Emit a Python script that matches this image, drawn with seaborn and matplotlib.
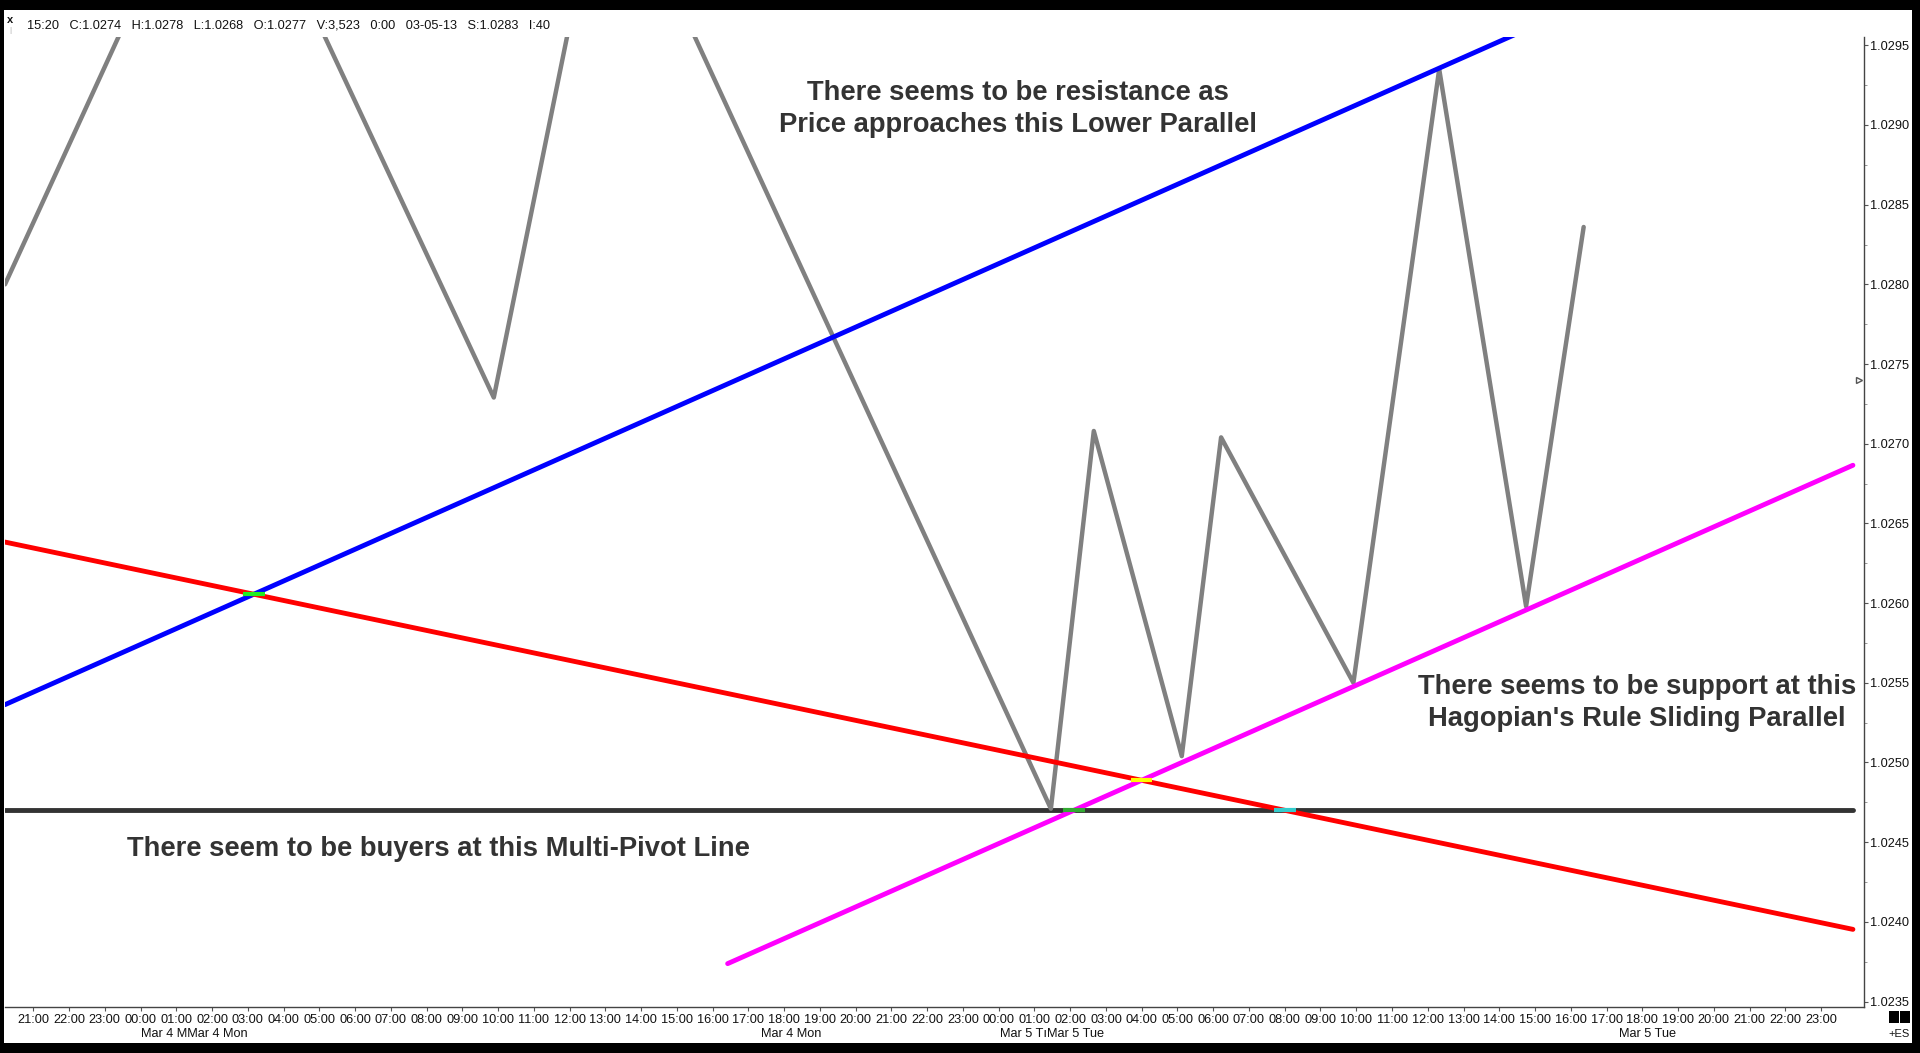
import numpy as np
import pandas as pd
import matplotlib
matplotlib.use("Agg")
import matplotlib.pyplot as plt
import seaborn as sns
from matplotlib.patches import Rectangle
from matplotlib.ticker import FixedLocator, MultipleLocator, FormatStrFormatter

# ---------------- data ----------------
# x = hours elapsed since Mar 3 21:00
price_hours = [-0.79, 5.24, 12.88, 16.02, 28.46, 29.66, 32.12, 33.22, 36.92, 39.32, 41.75, 43.36]
price_vals = [1.02800, 1.03095, 1.02729, 1.03076, 1.02471, 1.02708, 1.02504, 1.02704,
              1.02550, 1.02935, 1.02598, 1.02836]

blue_hours = [-0.79, 43.0]
blue_vals = [1.025363, 1.029723]
red_hours = [-0.79, 50.89]
red_vals = [1.026383, 1.023953]
pivot_hours = [-0.79, 50.89]
pivot_vals = [1.02470, 1.02470]
magenta_hours = [19.42, 50.89]
magenta_vals = [1.023738, 1.026865]

hour_ticks = list(range(0, 51))
hour_labels = [f"{(21 + h) % 24:02d}:00" for h in hour_ticks]
date_label_hours = [4.50, 21.2, 28.48, 45.15]
date_labels = ["Mar 4 MMar 4 Mon", "Mar 4 Mon", "Mar 5 T\u0131Mar 5 Tue", "Mar 5 Tue"]
y_ticks = [1.0235, 1.0240, 1.0245, 1.0250, 1.0255, 1.0260, 1.0265, 1.0270,
           1.0275, 1.0280, 1.0285, 1.0290, 1.0295]
last_close = 1.0274
header = "15:20   C:1.0274   H:1.0278   L:1.0268   O:1.0277   V:3,523   0:00   03-05-13   S:1.0283   I:40"

# ---------------- figure ----------------
sns.set_theme(style="white")
plt.rcParams['font.family'] = ['Liberation Sans', 'DejaVu Sans']

W, H = 1920, 1053
fig = plt.figure(figsize=(W / 100, H / 100), dpi=100)
fig.patch.set_facecolor("white")

left_px, right_px, top_px, bot_px = 5, 1864, 36.7, 1006.5
ax = fig.add_axes([left_px / W, 1 - bot_px / H, (right_px - left_px) / W, (bot_px - top_px) / H])
ax.set_facecolor("white")

def line_df(xs, ys):
    return pd.DataFrame({"h": xs, "p": ys})

sns.lineplot(data=line_df(pivot_hours, pivot_vals), x="h", y="p", ax=ax, color="#333333",
             linewidth=3.5, estimator=None, sort=False, zorder=2)
sns.lineplot(data=line_df(price_hours, price_vals), x="h", y="p", ax=ax, color="#808080",
             linewidth=3.2, estimator=None, sort=False, zorder=3)
sns.lineplot(data=line_df(blue_hours, blue_vals), x="h", y="p", ax=ax, color="#0000ff",
             linewidth=3.5, estimator=None, sort=False, zorder=4)
sns.lineplot(data=line_df(red_hours, red_vals), x="h", y="p", ax=ax, color="#ff0000",
             linewidth=3.5, estimator=None, sort=False, zorder=4)
sns.lineplot(data=line_df(magenta_hours, magenta_vals), x="h", y="p", ax=ax, color="#ff00ff",
             linewidth=3.5, estimator=None, sort=False, zorder=5)

# intersection highlights computed from the lines
def line_coef(xs, ys):
    m = (ys[1] - ys[0]) / (xs[1] - xs[0])
    return m, ys[0] - m * xs[0]

def intersect(a, b):
    m1, c1 = line_coef(*a)
    m2, c2 = line_coef(*b)
    x = (c2 - c1) / (m1 - m2)
    return x, m1 * x + c1

pairs = [((blue_hours, blue_vals), (red_hours, red_vals), "#22ee22"),
         ((red_hours, red_vals), (magenta_hours, magenta_vals), "#ffff00"),
         ((magenta_hours, magenta_vals), (pivot_hours, pivot_vals), "#33aa33"),
         ((red_hours, red_vals), (pivot_hours, pivot_vals), "#33cccc")]
for a, b, c in pairs:
    xi, yi = intersect(a, b)
    ax.plot([xi - 0.3, xi + 0.3], [yi, yi], color=c, linewidth=3.0, zorder=6,
            solid_capstyle="butt")

ax.set_xlim(-0.79, 51.2)
ax.set_ylim(1.023469, 1.029554)
ax.set_xlabel("")
ax.set_ylabel("")

# axes styling
for s in ["left", "top"]:
    ax.spines[s].set_visible(False)
for s in ["right", "bottom"]:
    ax.spines[s].set_visible(True)
    ax.spines[s].set_color("#444444")
    ax.spines[s].set_linewidth(1.0)

TICK_FS = 9.2
ax.xaxis.set_major_locator(FixedLocator(hour_ticks))
ax.set_xticklabels(hour_labels)
ax.yaxis.tick_right()
ax.yaxis.set_major_locator(FixedLocator(y_ticks))
ax.yaxis.set_major_formatter(FormatStrFormatter("%.4f"))
ax.yaxis.set_minor_locator(MultipleLocator(0.00025))
ax.tick_params(axis="x", which="major", direction="out", length=3, width=0.8, color="#555555",
               labelsize=TICK_FS, labelcolor="#111111", pad=2.5, bottom=True)
ax.tick_params(axis="y", which="major", direction="out", length=3, width=0.8, color="#555555",
               labelsize=TICK_FS, labelcolor="#111111", pad=1.5, right=True, left=False)
ax.tick_params(axis="y", which="minor", direction="out", length=2, width=0.6, color="#888888",
               right=True, left=False)
ax.grid(False)

# date labels
for hx, lab in zip(date_label_hours, date_labels):
    ax.text(hx, -0.0288, lab, transform=ax.get_xaxis_transform(), ha="center", va="center",
            fontsize=TICK_FS, color="#111111", clip_on=False)

# last price marker on the right axis
ax.plot([0.9955, 0.9985], [last_close, last_close], transform=ax.get_yaxis_transform(),
        color="#555555", linewidth=0.8, clip_on=False)
ax.plot([0.9975], [last_close], transform=ax.get_yaxis_transform(), marker=">",
        markersize=4, markerfacecolor="white", markeredgecolor="#555555", clip_on=False)

# annotations
ANN_FS = 19.7
txt_kw = dict(fontsize=ANN_FS, fontweight="bold", color="#333333", ha="center", va="center")
fig.text(1017.6 / W, 1 - 93 / H, "There seems to be resistance as", **txt_kw)
fig.text(1017.6 / W, 1 - 125 / H, "Price approaches this Lower Parallel", **txt_kw)
fig.text(1637 / W, 1 - 687 / H, "There seems to be support at this", **txt_kw)
fig.text(1637 / W, 1 - 718.5 / H, "Hagopian's Rule Sliding Parallel", **txt_kw)
fig.text(127 / W, 1 - 848.5 / H, "There seem to be buyers at this Multi-Pivot Line",
         fontsize=ANN_FS, fontweight="bold", color="#333333", ha="left", va="center")

# header
fig.text(27 / W, 1 - 26 / H, header, fontsize=TICK_FS, color="#111111", ha="left", va="center")
fig.text(10 / W, 1 - 20 / H, "x", fontsize=8, fontweight="bold", color="#111111",
         ha="center", va="center")
fig.text(10 / W, 1 - 31 / H, "|", fontsize=6, color="#aaaaaa", ha="center", va="center")

# bottom-right widgets
fig.patches.append(Rectangle((1889 / W, 1 - 1023 / H), 10 / W, 12 / H, transform=fig.transFigure,
                             facecolor="black", edgecolor="none"))
fig.patches.append(Rectangle((1900 / W, 1 - 1023 / H), 10 / W, 12 / H, transform=fig.transFigure,
                             facecolor="black", edgecolor="none"))
fig.text(1910 / W, 1 - 1034 / H, "+ES", fontsize=8, color="#111111", ha="right", va="center")

# outer black frame
frame = [(0, 0, W, 10), (0, 0, 4, H), (1912, 0, 8, H), (0, 1043, W, 10)]
for x0, y0, w, h in frame:
    fig.patches.append(Rectangle((x0 / W, 1 - (y0 + h) / H), w / W, h / H, transform=fig.transFigure,
                                 facecolor="black", edgecolor="none", zorder=10))

fig.savefig("out.png", dpi=100, facecolor="white")
